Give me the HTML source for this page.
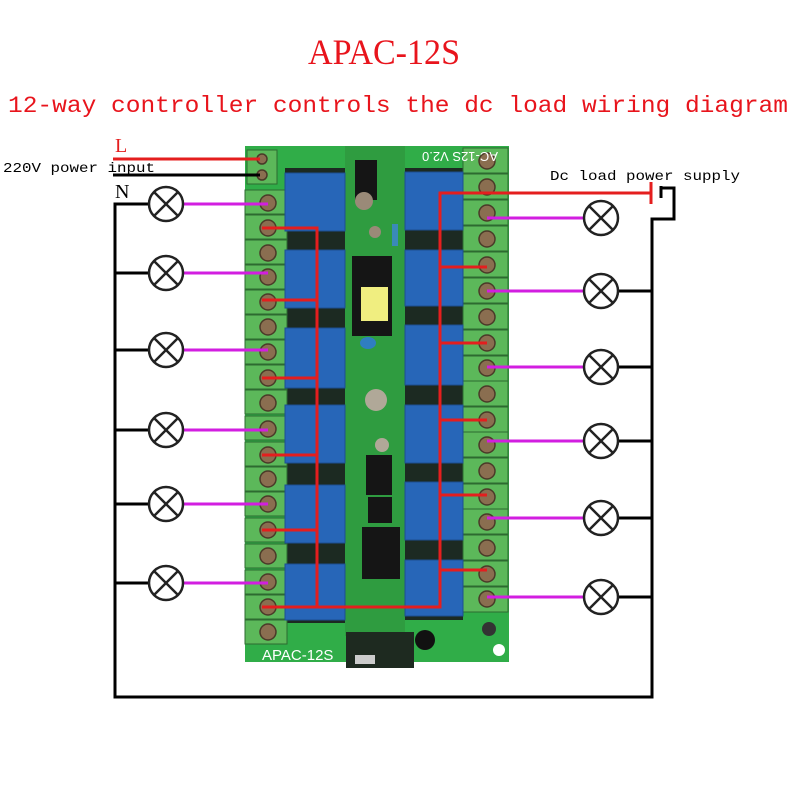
<!DOCTYPE html>
<html><head><meta charset="utf-8"><style>
html,body{margin:0;padding:0;background:#fff;width:800px;height:800px;overflow:hidden}
</style></head><body>
<svg width="800" height="800" viewBox="0 0 800 800" xmlns="http://www.w3.org/2000/svg">
<rect width="800" height="800" fill="#fff"/>
<text x="308" y="64" font-family="Liberation Serif, serif" font-size="36" fill="#e8141c" textLength="152" lengthAdjust="spacingAndGlyphs">APAC-12S</text>
<text x="8" y="112" font-family="Liberation Mono, monospace" font-size="23" fill="#e8141c" textLength="780" lengthAdjust="spacingAndGlyphs">12-way controller controls the dc load wiring diagram</text>

<!-- board -->
<rect x="245" y="146" width="264" height="516" fill="#30ad48"/>
<rect x="285" y="168" width="60" height="455" fill="#1c2a22"/>
<rect x="405" y="168" width="58" height="452" fill="#1c2a22"/>
<rect x="345" y="146" width="60" height="490" fill="#2f9c40"/>
<!-- left terminals -->
<g fill="#5cb85a" stroke="#2d6a30" stroke-width="1">
<rect x="247" y="150" width="30" height="34"/>
<rect x="245" y="190" width="42" height="24"/><rect x="245" y="215" width="42" height="24"/><rect x="245" y="240" width="42" height="24"/><rect x="245" y="265" width="42" height="24"/><rect x="245" y="290" width="42" height="24"/><rect x="245" y="315" width="42" height="24"/><rect x="245" y="340" width="42" height="24"/><rect x="245" y="365" width="42" height="24"/><rect x="245" y="390" width="42" height="24"/><rect x="245" y="416" width="42" height="24"/><rect x="245" y="442" width="42" height="24"/><rect x="245" y="467" width="42" height="24"/><rect x="245" y="492" width="42" height="24"/><rect x="245" y="518" width="42" height="24"/><rect x="245" y="544" width="42" height="24"/><rect x="245" y="570" width="42" height="24"/><rect x="245" y="595" width="42" height="24"/><rect x="245" y="620" width="42" height="24"/>
</g>
<g fill="#8a6e50" stroke="#4a3a28" stroke-width="1.5">
<circle cx="262" cy="159" r="5"/><circle cx="262" cy="175" r="5"/>
<circle cx="268" cy="203" r="8"/><circle cx="268" cy="228" r="8"/><circle cx="268" cy="253" r="8"/><circle cx="268" cy="277" r="8"/><circle cx="268" cy="302" r="8"/><circle cx="268" cy="327" r="8"/><circle cx="268" cy="352" r="8"/><circle cx="268" cy="378" r="8"/><circle cx="268" cy="403" r="8"/><circle cx="268" cy="429" r="8"/><circle cx="268" cy="455" r="8"/><circle cx="268" cy="479" r="8"/><circle cx="268" cy="504" r="8"/><circle cx="268" cy="530" r="8"/><circle cx="268" cy="556" r="8"/><circle cx="268" cy="582" r="8"/><circle cx="268" cy="607" r="8"/><circle cx="268" cy="632" r="8"/>
</g>
<!-- right terminals -->
<g fill="#5cb85a" stroke="#2d6a30" stroke-width="1">
<rect x="463" y="148" width="45" height="25"/><rect x="463" y="174" width="45" height="25"/><rect x="463" y="200" width="45" height="25"/><rect x="463" y="226" width="45" height="25"/><rect x="463" y="252" width="45" height="25"/><rect x="463" y="278" width="45" height="25"/><rect x="463" y="304" width="45" height="25"/><rect x="463" y="330" width="45" height="25"/><rect x="463" y="356" width="45" height="25"/><rect x="463" y="381" width="45" height="25"/><rect x="463" y="407" width="45" height="25"/><rect x="463" y="432" width="45" height="25"/><rect x="463" y="458" width="45" height="25"/><rect x="463" y="484" width="45" height="25"/><rect x="463" y="509" width="45" height="25"/><rect x="463" y="535" width="45" height="25"/><rect x="463" y="561" width="45" height="25"/><rect x="463" y="587" width="45" height="25"/>
</g>
<g fill="#8a6e50" stroke="#4a3a28" stroke-width="1.5">
<circle cx="487" cy="161" r="8"/><circle cx="487" cy="187" r="8"/><circle cx="487" cy="213" r="8"/><circle cx="487" cy="239" r="8"/><circle cx="487" cy="265" r="8"/><circle cx="487" cy="291" r="8"/><circle cx="487" cy="317" r="8"/><circle cx="487" cy="343" r="8"/><circle cx="487" cy="368" r="8"/><circle cx="487" cy="394" r="8"/><circle cx="487" cy="420" r="8"/><circle cx="487" cy="445" r="8"/><circle cx="487" cy="471" r="8"/><circle cx="487" cy="497" r="8"/><circle cx="487" cy="522" r="8"/><circle cx="487" cy="548" r="8"/><circle cx="487" cy="574" r="8"/><circle cx="487" cy="599" r="8"/>
</g>
<!-- relays -->
<g fill="#2766b8" stroke="#1d4f90" stroke-width="1">
<rect x="285" y="173" width="60" height="58"/><rect x="285" y="250" width="60" height="58"/><rect x="285" y="328" width="60" height="60"/><rect x="285" y="405" width="60" height="58"/><rect x="285" y="485" width="60" height="58"/><rect x="285" y="564" width="60" height="56"/>
<rect x="405" y="172" width="58" height="58"/><rect x="405" y="250" width="58" height="56"/><rect x="405" y="325" width="58" height="60"/><rect x="405" y="405" width="58" height="58"/><rect x="405" y="482" width="58" height="58"/><rect x="405" y="560" width="58" height="56"/>
</g>
<!-- center components -->
<rect x="355" y="160" width="22" height="40" fill="#151515"/>
<circle cx="364" cy="201" r="9" fill="#9a8a78"/>
<circle cx="375" cy="232" r="6" fill="#9a8a78"/>
<rect x="392" y="224" width="6" height="22" fill="#3a8ab8"/>
<rect x="352" y="256" width="40" height="80" fill="#151515"/>
<rect x="361" y="287" width="27" height="34" fill="#f0ee80"/>
<ellipse cx="368" cy="343" rx="8" ry="6" fill="#2f7ec0"/>
<circle cx="376" cy="400" r="11" fill="#b0a898"/>
<circle cx="382" cy="445" r="7" fill="#b0a898"/>
<rect x="366" y="455" width="26" height="40" fill="#151515"/>
<rect x="368" y="497" width="24" height="26" fill="#151515"/>
<rect x="362" y="527" width="38" height="52" fill="#151515"/>
<rect x="346" y="632" width="68" height="36" fill="#1e2a20"/>
<rect x="355" y="655" width="20" height="9" fill="#ccc"/>
<circle cx="425" cy="640" r="10" fill="#111"/>
<circle cx="489" cy="629" r="7" fill="#333"/>
<circle cx="499" cy="650" r="6" fill="#fff"/>
<text x="262" y="660" font-family="Liberation Sans, sans-serif" font-size="15" fill="#fff">APAC-12S</text>
<text x="460" y="152" font-family="Liberation Sans, sans-serif" font-size="13" fill="#fff" transform="rotate(180 460 152)" text-anchor="middle">AC-12S V2.0</text>

<!-- wiring -->
<g stroke="#000" stroke-width="3" fill="none">
<line x1="113" y1="175" x2="260" y2="175"/>
<polyline points="149,204 115,204 115,697 652,697 652,219 674,219 674,188 661,188"/>
<line x1="115" y1="273" x2="149" y2="273"/><line x1="115" y1="350" x2="149" y2="350"/><line x1="115" y1="430" x2="149" y2="430"/><line x1="115" y1="504" x2="149" y2="504"/><line x1="115" y1="583" x2="149" y2="583"/>
<line x1="618" y1="291" x2="652" y2="291"/><line x1="618" y1="367" x2="652" y2="367"/><line x1="618" y1="441" x2="652" y2="441"/><line x1="618" y1="518" x2="652" y2="518"/><line x1="618" y1="597" x2="652" y2="597"/>
<line x1="661" y1="186" x2="661" y2="198"/>
</g>
<g stroke="#e41e1e" stroke-width="3" fill="none">
<line x1="113" y1="159" x2="260" y2="159"/>
<polyline points="262,228 317,228 317,607"/>
<line x1="262" y1="300" x2="317" y2="300"/><line x1="262" y1="378" x2="317" y2="378"/><line x1="262" y1="455" x2="317" y2="455"/><line x1="262" y1="530" x2="317" y2="530"/>
<polyline points="262,607 440,607 440,193 650,193"/>
<line x1="440" y1="267" x2="487" y2="267"/><line x1="440" y1="343" x2="487" y2="343"/><line x1="440" y1="420" x2="487" y2="420"/><line x1="440" y1="495" x2="487" y2="495"/><line x1="440" y1="570" x2="487" y2="570"/>
<line x1="651" y1="182" x2="651" y2="204"/>
</g>
<g stroke="#d21ee0" stroke-width="3">
<line x1="183" y1="204" x2="268" y2="204"/><line x1="183" y1="273" x2="268" y2="273"/><line x1="183" y1="350" x2="268" y2="350"/><line x1="183" y1="430" x2="268" y2="430"/><line x1="183" y1="504" x2="268" y2="504"/><line x1="183" y1="583" x2="268" y2="583"/>
<line x1="487" y1="218" x2="584" y2="218"/><line x1="487" y1="291" x2="584" y2="291"/><line x1="487" y1="367" x2="584" y2="367"/><line x1="487" y1="441" x2="584" y2="441"/><line x1="487" y1="518" x2="584" y2="518"/><line x1="487" y1="597" x2="584" y2="597"/>
</g>
<!-- lamps -->
<defs><g id="lamp"><circle r="17" fill="#fff" stroke="#222" stroke-width="2.5"/><line x1="-12" y1="-12" x2="12" y2="12" stroke="#222" stroke-width="2.5"/><line x1="12" y1="-12" x2="-12" y2="12" stroke="#222" stroke-width="2.5"/></g></defs>
<use href="#lamp" x="166" y="204"/><use href="#lamp" x="166" y="273"/><use href="#lamp" x="166" y="350"/><use href="#lamp" x="166" y="430"/><use href="#lamp" x="166" y="504"/><use href="#lamp" x="166" y="583"/>
<use href="#lamp" x="601" y="218"/><use href="#lamp" x="601" y="291"/><use href="#lamp" x="601" y="367"/><use href="#lamp" x="601" y="441"/><use href="#lamp" x="601" y="518"/><use href="#lamp" x="601" y="597"/>

<text x="115" y="152" font-family="Liberation Serif, serif" font-size="20" fill="#e41e1e">L</text>
<text x="3" y="172" font-family="Liberation Mono, monospace" font-size="14" fill="#000" textLength="152" lengthAdjust="spacingAndGlyphs">220V power input</text>
<text x="115" y="198" font-family="Liberation Serif, serif" font-size="20" fill="#000">N</text>
<text x="550" y="180" font-family="Liberation Mono, monospace" font-size="14" fill="#000" textLength="190" lengthAdjust="spacingAndGlyphs">Dc load power supply</text>
</svg>
</body></html>
